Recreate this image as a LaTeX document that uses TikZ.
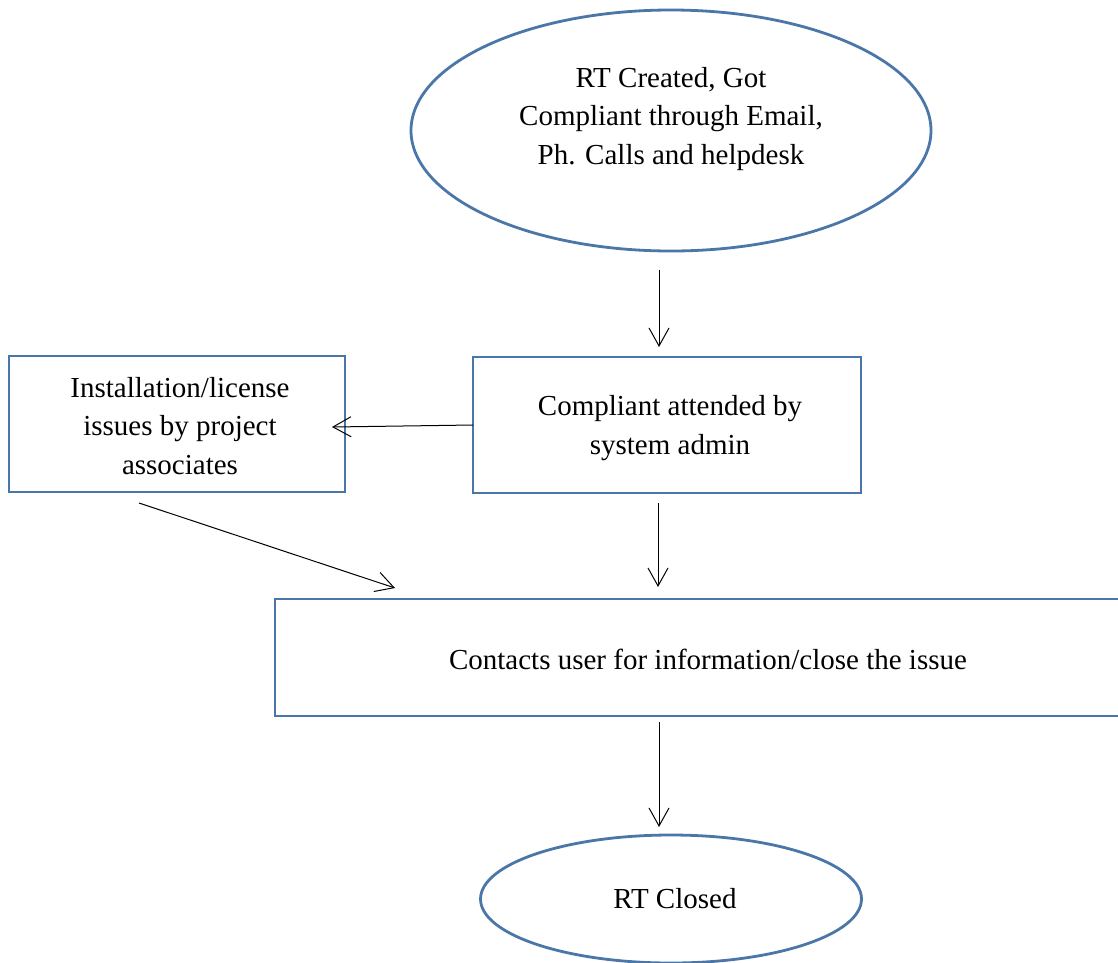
\documentclass[tikz,border=0pt]{standalone}
\usepackage{fontspec}
\setmainfont{Liberation Serif}
\usetikzlibrary{shapes.geometric,arrows.meta}
\definecolor{bord}{HTML}{4A76A8}
\tikzset{
  boxst/.style={draw=bord, line width=2.8pt, rectangle, inner sep=0pt, align=center},
  ellst/.style={draw=bord, line width=2.8pt, ellipse, inner sep=0pt},
  txt/.style={align=center, inner sep=0pt, font=\fontsize{29}{38.5}\selectfont},
  arr/.style={draw=black, line width=1pt, -{Straight Barb[length=18pt,width=20pt,line width=1pt]}}
}
\begin{document}
\begin{tikzpicture}[x=1pt,y=-1pt]
\useasboundingbox (0,0) rectangle (1118,962);
\clip (0,0) rectangle (1118,962);
% nodes
\node[ellst, minimum width=520, minimum height=241] (start) at (671,130.5) {};
\node[txt] (starttxt) at (671,119) {RT Created, Got\\Compliant through Email,\\Ph. Calls and helpdesk};
\node[boxst, minimum width=388, minimum height=136] (attend) at (667,425) {};
\node[txt] (attendtxt) at (670,428) {Compliant attended by\\system admin};
\node[boxst, minimum width=336, minimum height=136] (inst) at (177,424) {};
\node[txt] (insttxt) at (180,426) {Installation/license\\issues by project\\associates};
\node[boxst, minimum width=866, minimum height=117] (contact) at (708,657.5) {};
\node[txt] (contacttxt) at (708,659) {Contacts user for information/close the issue};
\node[ellst, minimum width=381, minimum height=128] (end) at (671,899) {};
\node[txt] (endtxt) at (675,899) {RT Closed};
% connector helper coordinates
\coordinate (a1s) at (659,270);
\coordinate (a1e) at (659,347);
\coordinate (a2s) at (658,503);
\coordinate (a2e) at (658,587);
\coordinate (a3s) at (659,722);
\coordinate (a3e) at (659,827);
\coordinate (d1) at (139,503);
\coordinate (d2) at (395,588);
\coordinate (l1) at (473,425);
\coordinate (l2) at (332,427);
% connectors
\draw[arr] (a1s) -- (a1e);
\draw[arr] (a2s) -- (a2e);
\draw[arr] (a3s) -- (a3e);
\draw[arr] (d1) -- (d2);
\draw[arr] (l1) -- (l2);
\end{tikzpicture}
\end{document}
